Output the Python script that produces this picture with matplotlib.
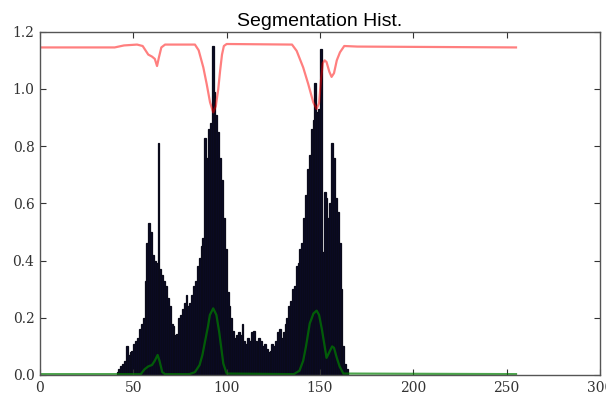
import numpy as np
import matplotlib
matplotlib.use("Agg")
import matplotlib.pyplot as plt

# histogram of grey levels 41..164 (everything else is zero)
first_bin = 41
hist_vals = [
    0.01, 0.02, 0.03, 0.04, 0.05, 0.10, 0.07, 0.08, 0.085,       # 41-49
    0.11, 0.12, 0.13, 0.16, 0.18, 0.20, 0.33, 0.46, 0.53, 0.50,  # 50-59
    0.42, 0.40, 0.39, 0.81, 0.37, 0.35, 0.33, 0.31, 0.27, 0.24,  # 60-69
    0.18, 0.17, 0.14, 0.145, 0.20, 0.21, 0.23, 0.25, 0.28, 0.24, # 70-79
    0.25, 0.28, 0.31, 0.33, 0.38, 0.41, 0.45, 0.48, 0.83, 0.76,  # 80-89
    0.86, 0.88, 1.15, 0.99, 0.91, 0.85, 0.76, 0.68, 0.55, 0.44,  # 90-99
    0.29, 0.24, 0.20, 0.155, 0.13, 0.14, 0.15, 0.14, 0.18, 0.12, # 100-109
    0.11, 0.13, 0.12, 0.15, 0.155, 0.12, 0.11, 0.13, 0.12, 0.10, # 110-119
    0.11, 0.09, 0.08, 0.085, 0.11, 0.10, 0.12, 0.15, 0.16, 0.13, # 120-129
    0.15, 0.18, 0.20, 0.24, 0.26, 0.30, 0.31, 0.38, 0.39, 0.44,  # 130-139
    0.46, 0.55, 0.63, 0.72, 0.77, 0.86, 0.89, 1.02, 0.92, 0.93,  # 140-149
    1.14, 0.43, 0.64, 0.62, 0.55, 0.60, 0.81, 0.76, 0.62, 0.57,  # 150-159
    0.46, 0.30, 0.10, 0.04, 0.02,                                # 160-164
]

# smoothed histogram (green)
green_x = [0, 54, 56, 58, 60, 61.5, 63, 64, 65.5, 67, 80, 83, 85.5, 87, 88.5,
           90, 91, 92.8, 94.5, 96, 97, 98.2, 100, 136, 139, 141, 142.5, 144.5,
           146.5, 148.2, 149.5, 151, 152.5, 153.5, 155, 156.5, 157.5, 159,
           160.5, 162.5, 255]
green_y = [0.003, 0.003, 0.02, 0.03, 0.035, 0.05, 0.07, 0.05, 0.01, 0.003,
           0.003, 0.01, 0.035, 0.07, 0.12, 0.17, 0.21, 0.233, 0.21, 0.15, 0.10,
           0.04, 0.005, 0.003, 0.015, 0.05, 0.10, 0.18, 0.215, 0.225, 0.21,
           0.16, 0.10, 0.06, 0.08, 0.10, 0.095, 0.06, 0.03, 0.005, 0.003]

# segmentation energy (red)
red_x = [0, 40, 45, 52, 55, 56.5, 58, 60, 61.5, 62.7, 63.7, 65, 67, 83, 85,
         87.5, 89.3, 91.1, 92.8, 94.2, 95.5, 96.5, 97.5, 98.5, 100, 135,
         137.5, 141, 143.7, 146.4, 148.2, 149.5, 150.5, 151.5, 152.5, 153.5,
         155, 156.2, 157.5, 159, 160.7, 163, 170, 255]
red_y = [1.145, 1.145, 1.152, 1.155, 1.15, 1.135, 1.12, 1.113, 1.105, 1.08,
         1.11, 1.145, 1.155, 1.155, 1.135, 1.075, 1.017, 0.953, 0.918, 0.94,
         1.0, 1.064, 1.12, 1.15, 1.157, 1.155, 1.133, 1.075, 1.017, 0.953,
         0.93, 0.95, 1.03, 1.09, 1.10, 1.094, 1.06, 1.042, 1.055, 1.10,
         1.128, 1.15, 1.148, 1.145]

bins = np.arange(first_bin, first_bin + len(hist_vals))

fig = plt.figure(figsize=(6.06, 3.98), dpi=100)
ax = fig.add_axes([40 / 606, 23 / 398, 560 / 606, 343.3 / 398])

ax.bar(bins, hist_vals, width=1, align='edge', color='#0a0a28',
       edgecolor='#0a0a1a', linewidth=0.9)
ax.plot(green_x, green_y, color='g', alpha=0.7, lw=1.6)
ax.plot(red_x, red_y, color='r', alpha=0.5, lw=1.6)

ax.set_xlim(0, 300)
ax.set_ylim(0, 1.2)
ax.set_xticks(np.arange(0, 301, 50))
ax.set_yticks(np.arange(0, 1.21, 0.2))
ax.set_yticklabels(['%.1f' % v for v in np.arange(0, 1.21, 0.2)])
ax.tick_params(direction='in', length=4, width=0.8, top=True, right=True,
               labelsize=10, colors='#333333', pad=4)
for lab in ax.get_xticklabels() + ax.get_yticklabels():
    lab.set_family('DejaVu Serif')
for sp in ax.spines.values():
    sp.set_color('#555555')
    sp.set_linewidth(1.0)

ax.set_title('Segmentation Hist.', fontsize=14, family='Liberation Sans', pad=4)

fig.savefig('out.png', dpi=100)
